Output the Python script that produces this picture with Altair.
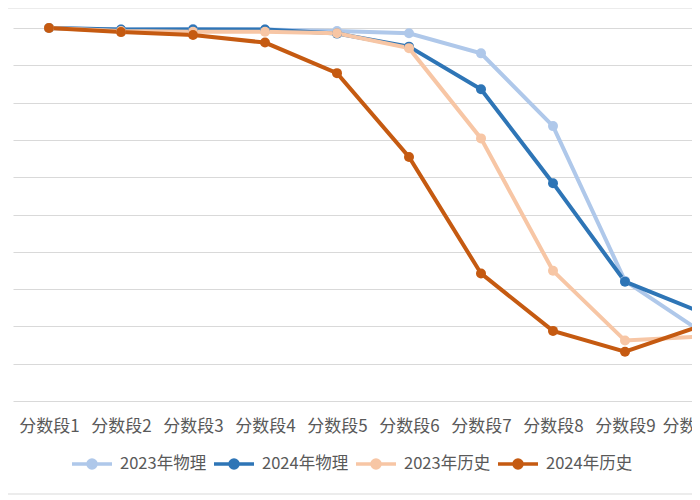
import altair as alt
import pandas as pd

categories = ["分数段1", "分数段2", "分数段3", "分数段4", "分数段5",
              "分数段6", "分数段7", "分数段8", "分数段9", "分数段10"]
series_names = ["2023年物理", "2024年物理", "2023年历史", "2024年历史"]
phys_2023 = [100, 99.6, 99.7, 99.6, 99.2, 98.6, 93.2, 73.7, 32.2, 19.3]
phys_2024 = [100, 99.6, 99.6, 99.6, 98.5, 95.0, 83.6, 58.4, 32.0, 24.2]
hist_2023 = [100, 99.2, 99.0, 99.0, 98.6, 94.6, 70.4, 34.9, 16.2, 17.2]
hist_2024 = [100, 98.9, 98.1, 96.1, 87.9, 65.4, 34.2, 18.8, 13.2, 19.8]
colors = ["#AFC8EA", "#2E75B6", "#F7C6A5", "#C55A11"]

rows = []
for name, vals in zip(series_names, [phys_2023, phys_2024, hist_2023, hist_2024]):
    for c, v in zip(categories, vals):
        rows.append({"cat": c, "value": v, "series": name})
df = pd.DataFrame(rows)

FONT = "Noto Sans CJK SC"
legend_symbol = ("M-1,0H1M-0.2,0A0.2,0.2,0,1,0,0.2,0"
                 "A0.2,0.2,0,1,0,-0.2,0")

lines = alt.Chart(df).mark_line(
    strokeWidth=4,
    point=alt.OverlayMarkDef(size=100, filled=True, opacity=1),
).encode(
    x=alt.X("cat:N", sort=categories,
            scale=alt.Scale(range=[0, 720], paddingInner=0, paddingOuter=0),
            axis=alt.Axis(title=None, labelAngle=0, domain=False, ticks=False,
                          labelFont=FONT, labelFontSize=17,
                          labelColor="#595959", labelPadding=17, grid=False)),
    y=alt.Y("value:Q", scale=alt.Scale(domain=[0, 100], nice=False),
            axis=alt.Axis(title=None, labels=False, ticks=False, domain=False,
                          values=list(range(0, 101, 10)),
                          gridColor="#D9D9D9", gridWidth=1)),
    color=alt.Color("series:N",
                    scale=alt.Scale(domain=series_names, range=colors),
                    legend=alt.Legend(title=None, orient="none",
                                      direction="horizontal",
                                      legendX=57, legendY=414,
                                      symbolType=legend_symbol,
                                      symbolSize=1600, symbolStrokeWidth=3.5,
                                      labelFont=FONT, labelFontSize=16.5,
                                      labelColor="#595959",
                                      columnPadding=0, labelOffset=6)),
)

border = alt.Chart(pd.DataFrame({"y": [-20, 466]})).mark_rule(
    color="#D9D9D9", strokeWidth=1
).encode(
    y=alt.Y("y:Q", scale=None),
    x=alt.value(-5),
    x2=alt.value(700),
)

chart = alt.layer(lines, border).properties(
    width=679,
    height=373,
    background="white",
    autosize=alt.AutoSizeParams(type="none"),
    padding={"left": 5, "top": 20, "right": 0, "bottom": 95},
).configure_view(stroke=None)

chart.save("out.html", embed_options={"renderer": "svg", "actions": False})
